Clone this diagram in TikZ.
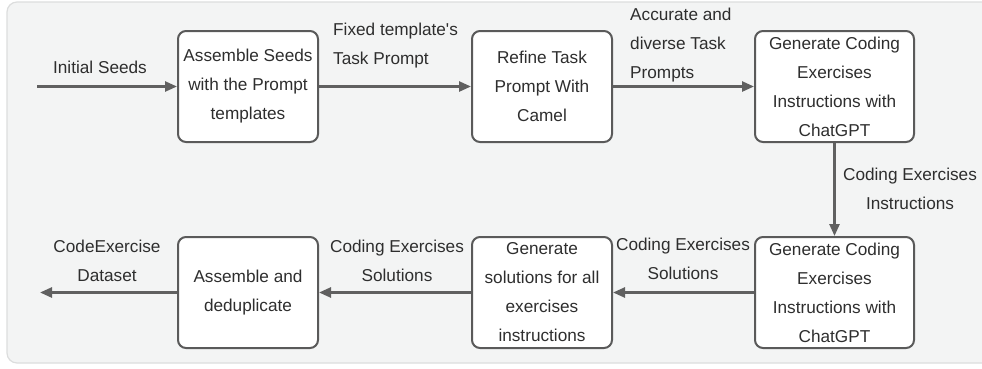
\documentclass[tikz,border=0pt]{standalone}
\usepackage{fontspec}
\newfontfamily\lsans{Liberation Sans}
\usetikzlibrary{arrows.meta}
\definecolor{bg}{HTML}{F3F4F4}
\definecolor{bgline}{HTML}{DCDDDD}
\definecolor{boxc}{HTML}{5A5A5A}
\definecolor{arr}{HTML}{606060}
\definecolor{txt}{HTML}{2E2E2E}
\begin{document}
\begin{tikzpicture}[x=1pt,y=-1pt,
  font=\lsans\fontsize{17.2}{29}\selectfont,
  box/.style={draw=boxc, line width=2pt, rounded corners=8pt, fill=white,
    minimum width=140pt, minimum height=111pt, align=center, inner sep=0pt, text=txt},
  widebox/.style={box, minimum width=159pt},
  flow/.style={draw=arr, line width=2.5pt, -{Triangle[length=12pt,width=10pt]}},
  lab/.style={text=txt, align=center, inner sep=0pt},
  labl/.style={text=txt, align=left, inner sep=0pt, anchor=west}]
\useasboundingbox (0,0) rectangle (982,368);
\draw[fill=bg, draw=bgline, line width=1.2pt, rounded corners=10pt] (7,2) rectangle (1000,363);

\node[box] (b1) at (248,86.5) {Assemble Seeds\\with the Prompt\\templates};
\node[box] (b2) at (542,86.5) {Refine Task\\Prompt With\\Camel};
\node[widebox] (b3) at (834.5,86.5) {Generate Coding\\Exercises\\Instructions with\\ChatGPT};
\node[widebox] (b4) at (834.5,292.5) {Generate Coding\\Exercises\\Instructions with\\ChatGPT};
\node[box] (b5) at (542,292.5) {Generate\\solutions for all\\exercises\\instructions};
\node[box] (b6) at (248,292.5) {Assemble and\\deduplicate};

\coordinate (in) at (37,86.5);
\coordinate (out) at (40,292.5);

\draw[flow] (in) -- (b1.west);
\draw[flow] (b1.east) -- (b2.west);
\draw[flow] (b2.east) -- (b3.west);
\draw[flow] (b3.south) -- (b4.north);
\draw[flow] (b4.west) -- (b5.east);
\draw[flow] (b5.west) -- (b6.east);
\draw[flow] (b6.west) -- (out);

\node[lab] (l1) at (100,67) {Initial Seeds};
\node[labl] (l2) at (333,46) {Fixed template's\\Task Prompt};
\node[labl] (l3) at (630,45) {Accurate and\\diverse Task\\Prompts};
\node[lab] (l4) at (910,189) {Coding Exercises\\Instructions};
\node[lab] (l5) at (683,259) {Coding Exercises\\Solutions};
\node[lab] (l6) at (397,261) {Coding Exercises\\Solutions};
\node[lab] (l7) at (107,261) {CodeExercise\\Dataset};
\end{tikzpicture}
\end{document}
